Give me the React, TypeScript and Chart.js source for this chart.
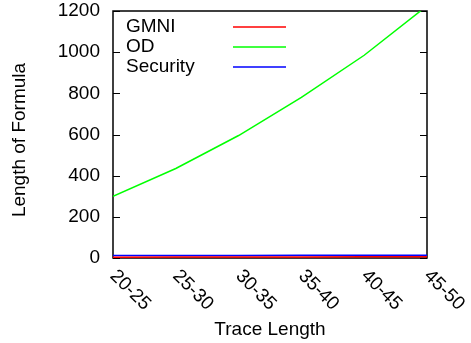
import React, { useEffect, useRef } from "react";
import { Chart, registerables } from "chart.js";

Chart.register(...registerables);

const CATEGORIES = ["20-25", "25-30", "30-35", "35-40", "40-45", "45-50"];
const GMNI = [4, 5, 5, 5, 6, 6];
const OD = [300, 435, 595, 780, 985, 1225];
const SECURITY = [12, 12, 12, 13, 13, 13];
const Y_TICKS = [0, 200, 400, 600, 800, 1000, 1200];
const X_TITLE = "Trace Length";
const Y_TITLE = "Length of Formula";

const FONT_FAMILY = '"Liberation Sans", Arial, Helvetica, sans-serif';
const FONT = `19px ${FONT_FAMILY}`;

const decorPlugin = {
  id: "gnuplotDecor",
  beforeDatasetsDraw(chart: any) {
    const { ctx, chartArea: a, scales } = chart;
    const y = scales.y;
    ctx.save();
    ctx.strokeStyle = "#000";
    ctx.lineWidth = 1;
    for (const v of Y_TICKS) {
      const py = Math.round(y.getPixelForValue(v)) + 0.5;
      ctx.beginPath();
      ctx.moveTo(a.left, py);
      ctx.lineTo(a.left + 7, py);
      ctx.moveTo(a.right - 7, py);
      ctx.lineTo(a.right, py);
      ctx.stroke();
    }
    ctx.lineWidth = 1.5;
    ctx.strokeRect(a.left, a.top, a.right - a.left, a.bottom - a.top);
    ctx.restore();
  },
  afterDraw(chart: any) {
    const { ctx, chartArea: a, scales } = chart;
    const x = scales.x;
    ctx.save();
    ctx.fillStyle = "#000";
    ctx.font = FONT;
    CATEGORIES.forEach((c, i) => {
      const px = x.getPixelForValue(i);
      ctx.save();
      ctx.translate(px, a.bottom + 15);
      ctx.rotate(Math.PI / 4);
      ctx.textAlign = "left";
      ctx.textBaseline = "middle";
      ctx.fillText(c, 0, 0);
      ctx.restore();
    });
    ctx.textAlign = "center";
    ctx.textBaseline = "alphabetic";
    ctx.fillText(X_TITLE, (a.left + a.right) / 2, a.bottom + 77);
    ctx.save();
    ctx.translate(20, 140);
    ctx.rotate(-Math.PI / 2);
    ctx.textAlign = "center";
    ctx.textBaseline = "middle";
    ctx.fillText(Y_TITLE, 0, 0);
    ctx.restore();
    chart.data.datasets.forEach((ds: any, i: number) => {
      const ly = a.top + 16 + i * 20;
      ctx.textAlign = "left";
      ctx.textBaseline = "middle";
      ctx.fillStyle = "#000";
      ctx.fillText(ds.label, 126, ly);
      ctx.strokeStyle = ds.borderColor;
      ctx.lineWidth = 1.5;
      ctx.beginPath();
      ctx.moveTo(233, ly);
      ctx.lineTo(286, ly);
      ctx.stroke();
    });
    ctx.restore();
  },
};

export default function App() {
  const canvasRef = useRef<HTMLCanvasElement | null>(null);

  useEffect(() => {
    if (!canvasRef.current) return;
    const chart = new Chart(canvasRef.current, {
      type: "line",
      data: {
        labels: CATEGORIES,
        datasets: [
          { label: "GMNI", data: GMNI, borderColor: "#ff0000", borderWidth: 1.5, pointRadius: 0, tension: 0, clip: 0 },
          { label: "OD", data: OD, borderColor: "#00ff00", borderWidth: 1.5, pointRadius: 0, tension: 0, clip: 0 },
          { label: "Security", data: SECURITY, borderColor: "#0000ff", borderWidth: 1.5, pointRadius: 0, tension: 0, clip: 0 },
        ],
      },
      options: {
        animation: false,
        responsive: false,
        events: [],
        layout: { padding: { top: 11, right: 44, left: 0, bottom: 0 } },
        plugins: {
          legend: { display: false },
          tooltip: { enabled: false },
          title: { display: false },
        },
        scales: {
          x: {
            type: "category",
            offset: false,
            grid: { display: false },
            border: { display: false },
            ticks: { display: false },
            afterFit: (scale: any) => {
              scale.height = 85;
              scale.paddingLeft = 0;
              scale.paddingRight = 0;
            },
          },
          y: {
            min: 0,
            max: 1200,
            grid: { display: false, drawTicks: false },
            border: { display: false },
            ticks: {
              stepSize: 200,
              padding: 13,
              color: "#000",
              font: { family: FONT_FAMILY, size: 19, lineHeight: 1 },
              callback: (v: any) => String(v),
            },
            afterFit: (scale: any) => {
              scale.width = 113;
              scale.paddingTop = 0;
              scale.paddingBottom = 0;
            },
          },
        },
      },
      plugins: [decorPlugin],
    });
    return () => chart.destroy();
  }, []);

  return (
    <div style={{ position: "absolute", left: 0, top: 0, width: 471, height: 343, background: "#fff" }}>
      <canvas ref={canvasRef} width={471} height={343} />
    </div>
  );
}
